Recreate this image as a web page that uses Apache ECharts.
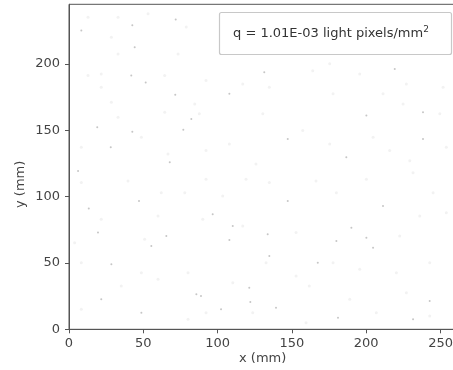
<!DOCTYPE html>
<html>
<head>
<meta charset="utf-8">
<script src="https://cdn.jsdelivr.net/npm/echarts@6/dist/echarts.min.js"></script>
<style>
  html, body { margin: 0; padding: 0; background: #fff; overflow: hidden; }
  #chart { width: 453px; height: 370px; }
</style>
</head>
<body>
<div id="chart"></div>
<script>
// Detected light pixel positions on the sample plate, in mm
const brightX = [71.8, 42.6, 44.2, 51.6, 71.5, 76.9, 28.1, 19.0, 42.6, 8.3, 41.9, 67.8, 82.3,
  147.2, 107.9, 131.4, 200.1, 238.2, 238.2, 219.2, 186.6, 55.4, 47.1, 6.1, 85.7, 48.7, 21.7,
  13.3, 19.5, 65.5, 28.5, 147.2, 96.7, 133.7, 107.9, 121.3, 122.0, 88.8, 110.2, 167.4, 134.8,
  102.3, 139.3, 211.3, 200.1, 179.9, 204.6, 242.7, 181.0, 231.5, 190.0];
const brightY = [233.5, 229.3, 212.7, 186.0, 176.9, 150.5, 137.3, 152.3, 149.0, 225.2, 191.3, 125.9, 158.6,
  143.5, 177.5, 193.8, 161.1, 163.7, 143.5, 196.3, 129.7, 62.8, 96.8, 119.4, 26.4, 12.5, 22.6,
  91.0, 72.9, 70.4, 49.0, 96.8, 86.7, 71.6, 67.3, 31.4, 20.6, 25.1, 77.9, 50.2, 55.3,
  15.1, 16.3, 93.0, 69.1, 66.6, 61.5, 21.3, 8.7, 7.5, 76.6];

// Weaker detections
const faintX = [12.8, 33.0, 53.2, 78.9, 28.5, 33.0, 12.8, 21.7, 64.4, 21.7, 28.5, 64.4, 73.4, 84.6,
  8.3, 66.6, 48.7, 33.0, 92.2, 116.9, 134.8, 87.7, 107.9, 130.4, 164.0, 92.2, 125.8, 157.3,
  175.4, 195.6, 227.0, 251.7, 177.7, 211.3, 224.8, 249.5, 175.4, 215.8, 204.6, 253.9, 229.3,
  8.3, 39.7, 62.1, 77.9, 21.7, 59.9, 3.8, 8.3, 50.9, 35.2, 59.9, 80.1, 8.3, 80.1, 48.7,
  92.2, 119.1, 134.8, 166.2, 103.4, 90.0, 116.9, 152.8, 132.6, 152.8, 110.2, 161.7, 92.2, 123.6, 159.5,
  200.1, 231.5, 179.9, 245.0, 236.0, 253.9, 177.7, 195.6, 220.3, 242.7, 227.0, 188.9, 206.8, 242.7, 222.5];
const faintY = [235.3, 235.3, 237.8, 227.8, 220.2, 207.6, 191.3, 192.5, 191.3, 182.5, 171.2, 163.7, 207.6, 169.9,
  137.3, 132.2, 144.8, 159.9, 187.5, 185.0, 182.5, 162.4, 139.7, 162.4, 195.0, 134.7, 124.7, 149.8,
  200.1, 192.5, 185.0, 182.5, 177.5, 177.5, 169.9, 162.4, 139.7, 134.7, 144.8, 137.3, 127.1,
  110.6, 111.8, 103.0, 103.0, 83.0, 85.4, 65.3, 50.2, 67.9, 32.7, 37.7, 42.7, 15.1, 7.5, 42.7,
  113.1, 113.1, 110.6, 111.8, 100.5, 83.0, 77.9, 72.9, 50.2, 40.2, 35.1, 32.7, 12.5, 12.5, 5.0,
  113.1, 118.1, 103.0, 103.0, 85.4, 87.9, 50.2, 45.2, 42.7, 50.2, 27.6, 22.6, 12.5, 10.0, 70.4];

const xTicks = [0, 50, 100, 150, 200, 250];
const yTicks = [0, 50, 100, 150, 200];
const densityLabel = '1.01E-03';

const pairs = (xs, ys) => xs.map((x, i) => [x, ys[i]]);

const FONT = 'DejaVu Sans';
const chart = echarts.init(document.getElementById('chart'), null, { renderer: 'canvas' });

chart.setOption({
  animation: false,
  backgroundColor: '#fff',
  grid: {
    // plot frame runs slightly past the right edge of the canvas
    left: 69, width: 386.4, top: 4.3, bottom: 40.7,
    outerBoundsMode: 'none', containLabel: false,
    show: true, borderColor: '#555', borderWidth: 1, backgroundColor: '#fff'
  },
  xAxis: {
    type: 'value', min: 0, max: 260, interval: 50,
    axisLine: { show: true, lineStyle: { color: '#555', width: 1 } },
    axisTick: { show: true, inside: false, length: 4, lineStyle: { color: '#555' }, customValues: xTicks },
    axisLabel: { customValues: xTicks, margin: 8, color: '#444', fontFamily: FONT, fontSize: 13 },
    splitLine: { show: false }
  },
  yAxis: {
    type: 'value', min: 0, max: 245, interval: 50,
    axisLine: { show: true, lineStyle: { color: '#555', width: 1 } },
    axisTick: { show: true, inside: false, length: 4, lineStyle: { color: '#555' }, customValues: yTicks },
    axisLabel: { customValues: yTicks, margin: 9, color: '#444', fontFamily: FONT, fontSize: 13 },
    splitLine: { show: false }
  },
  series: [
    {
      type: 'scatter', name: 'faint', data: pairs(faintX, faintY),
      symbol: 'circle', symbolSize: 3,
      itemStyle: { color: '#efefef' }, silent: true
    },
    {
      type: 'scatter', name: 'bright', data: pairs(brightX, brightY),
      symbol: 'circle', symbolSize: 2,
      itemStyle: { color: '#b8b8b8' }, silent: true
    }
  ],
  graphic: [
    {
      type: 'text', left: 239, top: 352,
      style: { text: 'x (mm)', fontFamily: FONT, fontSize: 13, fill: '#444' }
    },
    {
      type: 'text', x: 14, y: 208, rotation: Math.PI / 2,
      style: { text: 'y (mm)', fontFamily: FONT, fontSize: 13, fill: '#444' }
    },
    {
      type: 'rect', shape: { x: 219.5, y: 12.5, width: 232, height: 42, r: 2 },
      style: { fill: '#fff', stroke: '#c8c8c8', lineWidth: 1.2 }, z: 100
    },
    {
      type: 'text', x: 233, y: 25, z: 101,
      style: {
        text: '{t|q = ' + densityLabel + ' light pixels/mm}{s|2}',
        rich: {
          t: { fontFamily: FONT, fontSize: 13, fill: '#333', verticalAlign: 'bottom', lineHeight: 15 },
          s: { fontFamily: FONT, fontSize: 9, fill: '#333', verticalAlign: 'top', lineHeight: 15, padding: [0, 0, 6, 0] }
        }
      }
    }
  ]
});
</script>
</body>
</html>
